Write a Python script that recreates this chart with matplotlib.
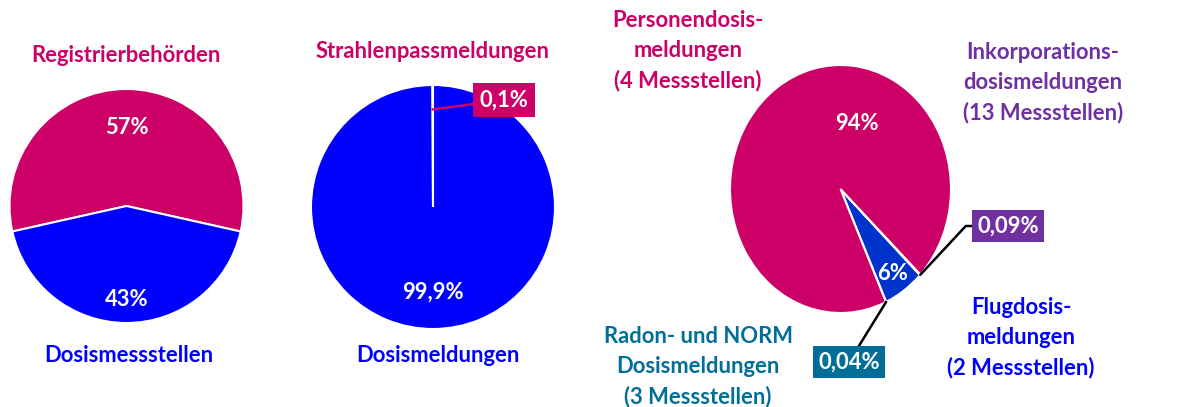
import numpy as np
import matplotlib.pyplot as plt

plt.rcParams['font.family'] = ['Lato', 'DejaVu Sans']
plt.rcParams['font.weight'] = 'bold'

W, H = 1186, 407

# data
pie1_labels = ["Registrierbehörden", "Dosismessstellen"]
pie1_values = [57, 43]
pie1_text = ["57%", "43%"]

pie2_labels = ["Strahlenpassmeldungen", "Dosismeldungen"]
pie2_values = [0.1, 99.9]
pie2_text = ["0,1%", "99,9%"]

pie3_labels = ["Radon- und NORM\nDosismeldungen\n(3 Messstellen)",
               "Flugdosis-\nmeldungen\n(2 Messstellen)",
               "Inkorporations-\ndosismeldungen\n(13 Messstellen)",
               "Personendosis-\nmeldungen\n(4 Messstellen)"]
pie3_values = [0.04, 6, 0.09, 94]
pie3_text = ["0,04%", "6%", "0,09%", "94%"]

magenta = "#CC0066"
blue = "#0000FF"
blue2 = "#0033CC"
purple = "#7030A0"
teal = "#006E96"

FS = 15.8
LS = 1.5


def fx(x):
    return x / W


def fy(y):
    return 1 - y / H


def pie_axes(cx, cy, rx, ry):
    ax = fig.add_axes([fx(cx - rx), fy(cy + ry), 2 * rx / W, 2 * ry / H])
    return ax


def finish(ax):
    ax.set_aspect('auto')
    ax.set_xlim(-1, 1)
    ax.set_ylim(-1, 1)
    ax.axis('off')


def polar(theta, r):
    t = np.deg2rad(theta)
    return r * np.cos(t), r * np.sin(t)


fig = plt.figure(figsize=(W / 100, H / 100), dpi=100)

# ---- pie 1
ax1 = pie_axes(126.5, 206, 117, 117)
w1, _ = ax1.pie(pie1_values, colors=[magenta, blue], startangle=-12.6,
                radius=1, wedgeprops=dict(edgecolor='white', linewidth=1.5))
finish(ax1)
for w, t, d in zip(w1, pie1_text, [0.67, 0.80]):
    mid = (w.theta1 + w.theta2) / 2
    ax1.text(*polar(mid, d), t, color='white', fontsize=FS, ha='center', va='center')
fig.text(fx(126), fy(55), pie1_labels[0], color=magenta, fontsize=FS, ha='center', va='center')
fig.text(fx(129), fy(355), pie1_labels[1], color=blue, fontsize=FS, ha='center', va='center')

# ---- pie 2
ax2 = pie_axes(433, 207, 122, 122)
w2, _ = ax2.pie(pie2_values, colors=[magenta, blue], startangle=90,
                radius=1, wedgeprops=dict(edgecolor='white', linewidth=1.5))
finish(ax2)
mid = (w2[1].theta1 + w2[1].theta2) / 2
ax2.text(*polar(mid, 0.70), pie2_text[1], color='white', fontsize=FS, ha='center', va='center')
mid = (w2[0].theta1 + w2[0].theta2) / 2
ax2.annotate(pie2_text[0], xy=polar(mid, 0.8), xycoords='data',
             xytext=(fx(504), fy(100)), textcoords='figure fraction',
             color='white', fontsize=FS, ha='center', va='center',
             bbox=dict(boxstyle='square,pad=0.3', fc=magenta, ec='none'),
             arrowprops=dict(arrowstyle='-', color=magenta, lw=1.8,
                             shrinkA=0, shrinkB=0))
fig.text(fx(433), fy(52), pie2_labels[0], color=magenta, fontsize=FS, ha='center', va='center')
fig.text(fx(438), fy(355), pie2_labels[1], color=blue, fontsize=FS, ha='center', va='center')

# ---- pie 3 (slightly stretched vertically)
ax3 = pie_axes(840.5, 189, 110.5, 124)
w3, _ = ax3.pie(pie3_values, colors=[teal, blue2, purple, magenta], startangle=-65.7,
                radius=1, wedgeprops=dict(edgecolor='white', linewidth=1.5))
finish(ax3)
ax3.text(0.15, 0.53, pie3_text[3], color='white', fontsize=FS, ha='center', va='center')
ax3.text(0.475, -0.685, pie3_text[1], color='white', fontsize=FS, ha='center', va='center')

# 0,09% leader
mid = (w3[2].theta1 + w3[2].theta2) / 2
ax3.annotate(pie3_text[2], xy=polar(mid, 1.0), xycoords='data',
             xytext=(fx(1008), fy(226)), textcoords='figure fraction',
             color='white', fontsize=FS, ha='center', va='center',
             bbox=dict(boxstyle='square,pad=0.25', fc=purple, ec='none'),
             arrowprops=dict(arrowstyle='-', color='black', lw=1.8, shrinkA=0, shrinkB=0,
                             connectionstyle='angle,angleA=0,angleB=47,rad=0'))
# 0,04% leader
mid = (w3[0].theta1 + w3[0].theta2) / 2
ax3.annotate(pie3_text[0], xy=polar(mid, 1.0), xycoords='data',
             xytext=(fx(849), fy(362)), textcoords='figure fraction',
             color='white', fontsize=FS, ha='center', va='center',
             bbox=dict(boxstyle='square,pad=0.25', fc=teal, ec='none'),
             arrowprops=dict(arrowstyle='-', color='black', lw=1.8, shrinkA=0, shrinkB=0))

fig.text(fx(688), fy(51), pie3_labels[3], color=magenta, fontsize=FS, ha='center', va='center',
         linespacing=LS)
fig.text(fx(1043), fy(83), pie3_labels[2], color=purple, fontsize=FS, ha='center', va='center',
         linespacing=LS)
fig.text(fx(1021), fy(338), pie3_labels[1], color=blue, fontsize=FS, ha='center', va='center',
         linespacing=LS)
fig.text(fx(698), fy(367), pie3_labels[0], color=teal, fontsize=FS, ha='center', va='center',
         linespacing=LS)

fig.savefig("out.png", dpi=100)
